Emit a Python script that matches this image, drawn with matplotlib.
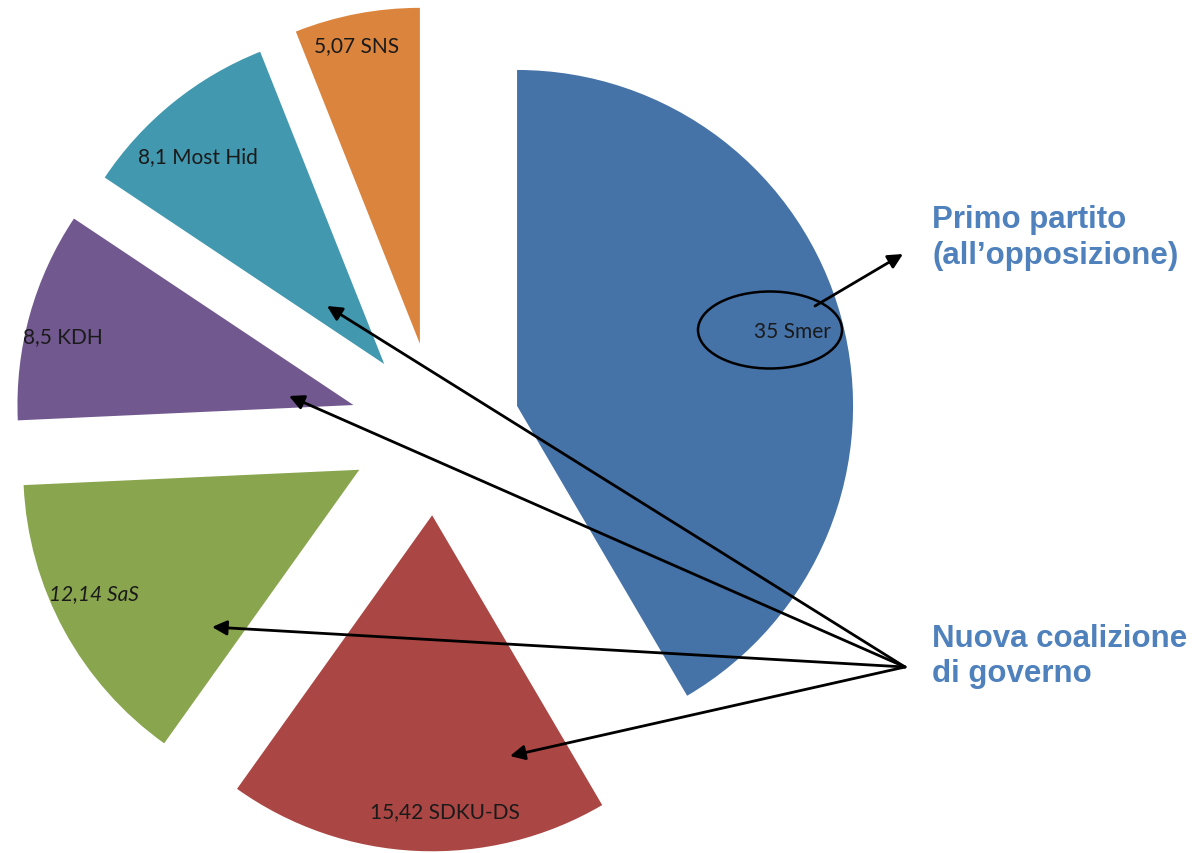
#!/usr/bin/env python3
"""Slovak 2010 election result as an exploded pie, with coalition annotations."""
import numpy as np
import matplotlib
matplotlib.use("Agg")
import matplotlib.pyplot as plt
from matplotlib.patches import Ellipse

parties = ["Smer", "SDKU-DS", "SaS", "KDH", "Most Hid", "SNS"]
votes = [35, 15.42, 12.14, 8.5, 8.1, 5.07]
vote_labels = ["35", "15,42", "12,14", "8,5", "8,1", "5,07"]
colors = ["#4572A7", "#AA4643", "#89A54E", "#71588F", "#4198AF", "#DB843D"]
coalition = ["SDKU-DS", "SaS", "KDH", "Most Hid"]
opposition_label = ["Primo partito", "(all\u2019opposizione)"]
coalition_label = ["Nuova coalizione", "di governo"]

# layout (pixel frame of the reference)
W, H = 1199, 854
CX, CY, R = 436, 429, 336
explode = [0.25, 0.26, 0.26, 0.255, 0.245, 0.255]
label_dist = [0.85, 0.88, 0.87, 0.89, 0.83, 0.91]
label_ang = [15.2, -87.5, -155.0, 166.7, 131.8, 102.0]
arrow_tips = {"SDKU-DS": (510, 757), "SaS": (212, 628), "KDH": (289, 397), "Most Hid": (327, 307)}
BLUE = "#4F81BD"


def px(x, y):
    return ((x - CX) / R, (CY - y) / R)


fig = plt.figure(figsize=(W / 100, H / 100), dpi=100)
ax = fig.add_axes([0, 0, 1, 1])
wedges, _ = ax.pie(votes, colors=colors, explode=explode, startangle=90,
                   counterclock=False, radius=1, wedgeprops=dict(linewidth=0))
ax.set_xlim(-CX / R, (W - CX) / R)
ax.set_ylim((CY - H) / R, CY / R)
ax.set_aspect("equal")
ax.axis("off")

for w, name, val, d, a in zip(wedges, parties, vote_labels, label_dist, label_ang):
    cx, cy = w.center
    t = np.deg2rad(a)
    ax.text(cx + d * np.cos(t), cy + d * np.sin(t), f"{val} {name}",
            ha="center", va="center", fontsize=15, family="Lato", color="#1a1a1a",
            style="italic" if name == "SaS" else "normal")

# Smer highlight
ax.add_patch(Ellipse(px(770, 331), 144 / R, 77 / R, fill=False, lw=1.8, ec="black"))
arrow = dict(arrowstyle="-|>", color="black", lw=2, mutation_scale=22, shrinkA=0, shrinkB=0)
ax.annotate("", xy=px(903, 255), xytext=px(815, 307), arrowprops=arrow)
for name in coalition:
    ax.annotate("", xy=px(*arrow_tips[name]), xytext=px(905, 668), arrowprops=arrow)

for i, line in enumerate(opposition_label):
    ax.text(*px(932, 228 + i * 36), line, ha="left", va="baseline", fontsize=22.5,
            family="Liberation Sans", weight="bold", color=BLUE)
for i, line in enumerate(coalition_label):
    ax.text(*px(932, 647 + i * 35), line, ha="left", va="baseline", fontsize=22.5,
            family="Liberation Sans", weight="bold", color=BLUE)

fig.savefig("out.png", dpi=100)
